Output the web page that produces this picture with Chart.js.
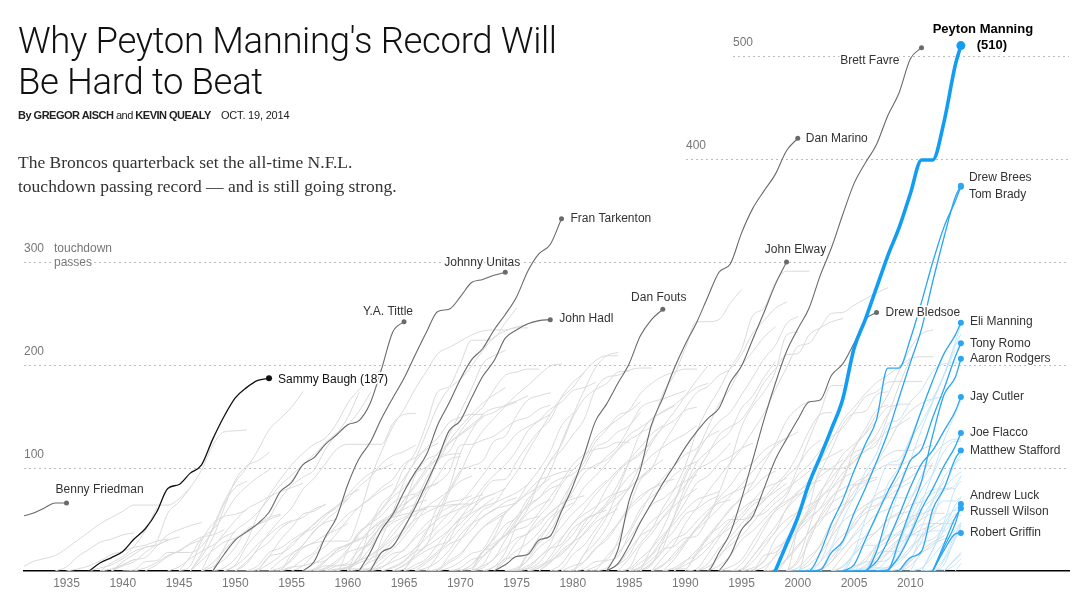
<!DOCTYPE html>
<html>
<head>
<meta charset="utf-8">
<script src="https://cdn.jsdelivr.net/npm/chart.js@4.4.1/dist/chart.umd.min.js"></script>
<style>
  body { margin: 0; background: #fff; }
  #page { position: relative; width: 1085px; height: 605px; overflow: hidden; font-family: "Liberation Sans", Arial, sans-serif; }
  #tdChart { position: absolute; left: 0; top: 0; }
  h1 { position: absolute; left: 18px; top: 20px; margin: 0; font-family: Roboto, "Liberation Sans", sans-serif; font-weight: 300; font-size: 36.5px; line-height: 41px; color: #111; letter-spacing: -0.35px; }
  .byline { position: absolute; left: 18px; top: 109px; font-size: 11px; line-height: 13px; color: #222; letter-spacing: -0.5px; white-space: nowrap; }
  .byline b { font-weight: bold; }
  .byline .date { position: absolute; left: 203px; letter-spacing: -0.2px; }
  .dek { position: absolute; left: 18px; top: 150px; font-family: "Liberation Serif", "DejaVu Serif", serif; font-size: 17.5px; line-height: 24px; color: #333; }
</style>
</head>
<body>
<div id="page">
  <canvas id="tdChart" width="1085" height="605"></canvas>
  <h1>Why Peyton Manning's Record Will<br>Be Hard to Beat</h1>
  <div class="byline"><b>By GREGOR AISCH</b> and <b>KEVIN QUEALY</b><span class="date">OCT. 19, 2014</span></div>
  <div class="dek">The Broncos quarterback set the all-time N.F.L.<br>touchdown passing record — and is still going strong.</div>
</div>
<script>
// x axis: season year, cumulative career touchdown passes on y
const tickYears = [1935, 1940, 1945, 1950, 1955, 1960, 1965, 1970, 1975, 1980, 1985, 1990, 1995, 2000, 2005, 2010];
const gridValues = [100, 200, 300, 400, 500];
const asOf = 2014.5; // Oct. 19, 2014

// retired quarterbacks that get a label (value at start year, start+1, ...)
const retiredNames = ['Benny Friedman', 'Sammy Baugh (187)', 'Y.A. Tittle', 'Johnny Unitas', 'Fran Tarkenton', 'John Hadl',
                      'Dan Fouts', 'Dan Marino', 'John Elway', 'Brett Favre', 'Drew Bledsoe'];
const retiredStart = [1931, 1937, 1948, 1956, 1961, 1962, 1973, 1983, 1983, 1991, 1993];
const retiredTD = [
  [53, 56, 61, 66, 66],
  [0, 8, 13, 19, 31, 41, 57, 80, 84, 95, 103, 128, 150, 168, 178, 185, 187],
  [0, 16, 30, 38, 46, 57, 77, 86, 103, 110, 123, 132, 142, 146, 163, 196, 232, 242],
  [0, 9, 33, 52, 84, 109, 125, 148, 168, 187, 210, 232, 252, 254, 266, 280, 283, 287, 290],
  [0, 18, 40, 55, 77, 96, 113, 142, 163, 186, 205, 216, 234, 249, 266, 291, 308, 317, 342],
  [0, 18, 24, 42, 62, 85, 109, 136, 146, 168, 189, 204, 226, 234, 240, 243, 244],
  [0, 6, 14, 16, 30, 34, 58, 82, 112, 145, 162, 182, 201, 228, 244, 254],
  [0, 20, 68, 98, 142, 168, 196, 220, 241, 266, 290, 298, 328, 352, 369, 385, 408, 420],
  [0, 7, 25, 47, 66, 85, 102, 120, 135, 148, 158, 183, 199, 225, 251, 278, 300],
  [0, 0, 18, 37, 70, 108, 147, 182, 213, 235, 255, 287, 314, 346, 376, 396, 414, 442, 464, 497, 508],
  [0, 15, 40, 53, 80, 108, 128, 147, 164, 166, 190, 201, 221, 244, 251]
];

// active quarterbacks that get a label; last value is the total on Oct. 19, 2014
const activeNames = ['Peyton Manning', 'Drew Brees', 'Tom Brady', 'Eli Manning', 'Tony Romo', 'Aaron Rodgers', 'Jay Cutler',
                     'Joe Flacco', 'Matthew Stafford', 'Andrew Luck', 'Russell Wilson', 'Robert Griffin'];
const activeStart = [1998, 2001, 2000, 2004, 2004, 2005, 2006, 2008, 2009, 2012, 2012, 2012];
const activeTD = [
  [0, 26, 52, 85, 111, 138, 167, 216, 244, 275, 306, 333, 366, 399, 399, 436, 491, 510],
  [0, 1, 18, 29, 56, 80, 106, 134, 168, 202, 235, 281, 324, 363, 374],
  [0, 0, 18, 46, 69, 97, 123, 147, 197, 197, 225, 261, 300, 334, 359, 373],
  [0, 6, 30, 54, 77, 98, 125, 156, 185, 211, 229, 241],
  [0, 0, 0, 19, 55, 81, 107, 118, 149, 177, 208, 221],
  [0, 0, 0, 1, 29, 59, 87, 132, 171, 188, 206],
  [0, 9, 29, 54, 81, 104, 117, 136, 155, 169],
  [0, 14, 35, 60, 80, 102, 121, 134],
  [0, 13, 19, 60, 80, 109, 117],
  [0, 23, 46, 65],
  [0, 26, 52, 61],
  [0, 20, 36, 37]
];

// other active quarterbacks (light blue), [start year, totals...], last value on Oct. 19, 2014
const otherActive = [
  [2004, [0, 1, 2, 24, 45, 79, 107, 137, 164, 190, 222, 239]],
  [2004, [0, 17, 34, 52, 84, 101, 127, 144, 165, 191, 219, 230]],
  [2003, [0, 0, 18, 50, 78, 104, 108, 129, 155, 168, 190, 214, 219]],
  [2008, [0, 16, 38, 66, 95, 127, 153, 166]],
  [1999, [0, 0, 2, 9, 24, 50, 72, 96, 114, 142, 147, 164, 176, 194, 201, 202, 202]],
  [2001, [0, 2, 18, 22, 36, 51, 71, 71, 71, 72, 93, 111, 123, 128, 128]],
  [2005, [0, 1, 17, 19, 19, 37, 51, 68, 81, 104, 109]],
  [2011, [0, 21, 40, 64, 71]],
  [2005, [0, 3, 3, 3, 11, 20, 43, 67, 91, 105, 113]],
  [2004, [0, 1, 1, 2, 11, 26, 55, 79, 94, 116, 126, 126]],
  [2005, [0, 9, 9, 11, 29, 50, 70, 79, 80, 83, 92]],
  [2011, [0, 20, 47, 80, 87]],
  [2010, [0, 18, 24, 45, 59, 59]],
  [2011, [0, 0, 10, 31, 41]],
  [2012, [0, 12, 36, 46]],
  [2012, [0, 6, 33, 44]],
  [2005, [0, 0, 0, 1, 22, 38, 65, 75, 81, 92, 96]],
  [2008, [0, 0, 12, 27, 31, 42, 55, 60]],
  [2002, [0, 0, 5, 16, 25, 25, 35, 35, 35, 35, 39, 39, 52, 54]],
  [2009, [0, 12, 29, 55, 68, 68, 72]],
  [2009, [0, 0, 0, 1, 1, 6, 12]],
  [2013, [0, 12, 18]],
  [2013, [0, 11, 16]],
  [2014, [0, 7]],
  [2010, [0, 3, 14, 28, 40, 47]],
  [2007, [0, 2, 8, 20, 34, 44, 52, 60, 66]]
];

// everyone else (gray), [start year, totals...]
const otherRetired = [
  [1931, [3, 9, 12, 15, 22, 30, 38, 46, 52, 58, 64, 64, 64, 64, 70, 81]],
  [1934, [0, 4, 14, 21, 28, 31, 35, 37]],
  [1935, [0, 2, 5, 10, 16, 19, 23, 25, 29, 31]],
  [1937, [0, 3, 6, 12, 19, 23, 25, 30]],
  [1938, [0, 8, 14, 24, 39, 61]],
  [1939, [0, 5, 9, 18, 28, 56, 67, 81, 98, 122, 135, 136, 137]],
  [1939, [0, 6, 11]],
  [1939, [0, 9, 16, 23, 25, 30, 33]],
  [1938, [0, 2, 6, 11, 13, 24, 35, 40, 44, 47]],
  [1940, [0, 1, 9, 10, 18, 18, 18, 24, 40, 65, 81, 87]],
  [1941, [0, 3, 8, 15, 19, 27, 33, 35, 40]],
  [1942, [0, 6, 14, 20, 26, 30]],
  [1944, [0, 4, 12, 19, 25, 33, 38]],
  [1945, [0, 14, 32, 40, 54, 71, 82, 91, 98]],
  [1945, [0, 5, 29, 46, 53, 55, 59]],
  [1946, [0, 17, 42, 67, 86, 100, 117, 137, 148, 159, 174]],
  [1946, [0, 14, 32, 61, 88, 102, 107, 115]],
  [1946, [0, 10, 20, 28, 32, 39, 45]],
  [1947, [0, 22, 36, 49, 60, 66, 72, 77, 81, 85]],
  [1947, [0, 4, 11, 23, 40, 45, 50, 54]],
  [1947, [0, 8, 20, 31, 37, 45, 52, 55]],
  [1948, [0, 3, 12, 28, 54, 73, 89, 103, 114, 123, 129, 143, 163, 176, 187, 196]],
  [1948, [0, 22, 39, 47, 57, 70, 83, 93, 103, 113, 124, 134, 142, 155, 173]],
  [1949, [0, 6, 24, 37, 51, 70, 83, 91, 98, 118, 133, 149, 173]],
  [1949, [0, 0, 0, 0, 0, 1, 16, 23, 27, 29, 29, 29, 53, 89, 116, 140, 157, 177, 194, 211, 217, 223, 229, 233, 234, 234, 236, 236]],
  [1949, [0, 5, 14, 26, 35, 44, 49]],
  [1950, [0, 7, 22, 37, 50, 61, 79, 90, 104, 118, 123, 123, 123, 123, 143, 152, 153]],
  [1950, [0, 9, 20, 28, 41, 48, 52, 60, 64]],
  [1951, [0, 5, 18, 22, 30, 37, 45, 55, 63, 70]],
  [1951, [0, 2, 14, 30, 42, 55, 58, 65]],
  [1952, [0, 14, 17, 24, 36, 42, 53, 63, 74, 86, 95, 99, 104]],
  [1952, [0, 7, 15, 27, 35, 46, 55, 61, 73, 79]],
  [1953, [0, 3, 10, 22, 28, 35, 40, 46]],
  [1953, [0, 10, 17, 25, 39, 47, 50]],
  [1954, [0, 4, 5, 8, 10, 20, 26, 30, 40, 47, 52, 55, 58, 62, 63, 64, 65, 65]],
  [1954, [0, 12, 25, 38, 49, 58, 70, 82, 91, 104, 112, 116, 122]],
  [1954, [0, 3, 11, 18, 32, 44, 55, 62, 71, 81, 89, 104, 110, 118, 124]],
  [1955, [0, 5, 16, 24, 36, 50, 62, 70, 78, 84]],
  [1956, [0, 1, 9, 20, 26, 31, 35, 48, 52, 63, 74, 81, 86, 96, 122, 123, 127, 131, 139, 146, 149, 157, 161]],
  [1956, [0, 2, 10, 18, 24, 36, 48, 60, 75, 90, 106, 120, 129, 144, 149, 152, 152]],
  [1956, [0, 7, 14, 22, 25, 33]],
  [1957, [0, 2, 8, 18, 22, 27, 45, 49, 63, 93, 108, 114, 132, 154, 177, 201, 209, 214]],
  [1957, [0, 5, 5, 6, 11, 43, 65, 76, 100, 115, 143, 174, 179, 201, 224, 224, 226, 241, 255]],
  [1957, [0, 0, 1, 2, 2, 2, 31, 57, 87, 108, 134, 160, 177, 186, 199, 214, 227, 233, 237, 239]],
  [1957, [0, 0, 0, 20, 38, 46, 59, 72, 81, 95, 101, 109, 113, 114]],
  [1957, [0, 3, 10, 21, 36, 46, 54, 66, 72, 75]],
  [1958, [0, 2, 4, 10, 22, 39, 54, 69, 84, 100, 114, 124, 132, 140, 149]],
  [1958, [0, 5, 8, 20, 26, 38, 47, 52, 58, 60]],
  [1959, [0, 3, 8, 12, 18, 29, 41, 66, 90, 106, 124, 133, 142, 150, 154, 161, 165, 170]],
  [1959, [0, 4, 10, 15, 25, 40, 50, 55, 62]],
  [1960, [0, 14, 30, 43, 53, 69, 82, 97, 110, 126, 140, 152, 163, 171, 178]],
  [1960, [0, 10, 15, 22, 31, 40, 50, 57, 62, 67, 69, 73]],
  [1960, [0, 24, 40, 49, 55, 60, 65, 69]],
  [1960, [0, 2, 9, 14, 25, 37, 52, 76, 92, 108, 111]],
  [1960, [0, 15, 31, 44, 57, 65, 72, 80, 85]],
  [1961, [0, 11, 23, 35, 49, 64, 80, 109, 116, 135, 149, 159, 176, 190, 193, 196, 196]],
  [1961, [0, 1, 4, 9, 14, 22, 32, 44, 56, 66, 79, 93, 108, 120, 133, 140, 146, 152]],
  [1961, [0, 3, 12, 21, 33, 47, 62, 70, 78, 87, 92]],
  [1962, [0, 3, 12, 21, 32, 41, 51, 76, 95, 119, 136, 148, 160, 171, 180, 190, 199, 201]],
  [1962, [0, 8, 17, 20, 34, 46, 55, 62, 65]],
  [1963, [0, 3, 9, 19, 25, 55, 80, 114, 136, 152, 158, 160, 164]],
  [1963, [0, 4, 10, 22, 39, 50, 56, 61, 70, 74]],
  [1964, [0, 6, 15, 24, 31, 40, 50, 56, 63, 71]],
  [1964, [0, 5, 13, 20, 25, 29, 41, 53, 62, 66, 71, 76, 84]],
  [1964, [0, 2, 15, 26, 38, 47, 60, 65, 71, 75, 80]],
  [1965, [0, 18, 37, 63, 78, 97, 102, 107, 126, 131, 151, 166, 170, 173]],
  [1965, [0, 3, 10, 19, 30, 51, 66, 81, 93, 103, 117, 136, 146, 157, 164, 175, 178, 183]],
  [1965, [0, 6, 12, 26, 39, 52, 60, 70, 75]],
  [1966, [0, 8, 17, 26, 31, 40, 53, 59, 67, 71]],
  [1966, [0, 0, 1, 15, 30, 45, 59, 65, 81, 96, 116, 134, 152, 168, 178, 193, 204, 209, 209]],
  [1966, [0, 3, 9, 20, 35, 46, 52, 60, 63, 66]],
  [1967, [0, 15, 36, 46, 58, 77, 88, 89, 106, 122, 136, 147, 169, 183, 192]],
  [1967, [0, 2, 10, 17, 29, 42, 51, 58]],
  [1968, [0, 3, 9, 17, 21, 39, 57, 66, 77, 88, 92, 96, 98]],
  [1968, [0, 8, 15, 30, 42, 49, 56, 67, 75, 82, 90]],
  [1969, [0, 1, 3, 18, 33, 56, 67, 84, 98, 116, 141, 153]],
  [1969, [0, 3, 11, 14, 24, 35, 45, 50, 53]],
  [1970, [0, 6, 19, 31, 45, 52, 70, 80, 97, 125, 151, 175, 197, 209, 212]],
  [1970, [0, 0, 0, 4, 18, 44, 60, 87, 107, 123, 149, 167, 176, 182, 193, 194]],
  [1970, [0, 6, 19, 27, 35, 44, 56, 64, 69]],
  [1971, [0, 5, 12, 30, 48, 66, 87, 106, 117, 132, 147, 176, 188, 190, 195, 197, 197]],
  [1971, [0, 6, 24, 34, 40, 44, 57, 72, 87, 103, 113, 118, 120, 125, 125]],
  [1971, [0, 19, 23, 38, 53, 62, 71, 84, 90, 94, 105, 125, 137, 151, 155, 164]],
  [1971, [0, 3, 12, 22, 32, 36, 48, 56, 66, 73]],
  [1971, [0, 14, 25, 35, 50, 64, 71, 80, 84]],
  [1972, [0, 4, 12, 28, 37, 45, 57, 65, 70, 73]],
  [1973, [0, 12, 14, 37, 53, 65, 84, 98, 109, 129, 139, 147, 156, 172, 182, 189, 193, 196, 196]],
  [1973, [0, 10, 20, 27, 38, 52, 60, 66]],
  [1974, [0, 1, 16, 33, 46, 68, 86, 99, 101, 111, 121, 139, 158, 164, 167, 171, 175]],
  [1974, [0, 1, 3, 13, 26, 52, 64, 81, 92, 104, 117, 127, 134, 148, 154, 160]],
  [1974, [0, 1, 18, 27, 39, 60, 88, 101, 120, 125, 135, 141, 154]],
  [1974, [0, 3, 10, 23, 31, 43, 56, 66, 78, 88]],
  [1975, [0, 11, 29, 46, 61, 77, 95, 103, 108, 118, 132, 139, 147, 155, 161, 170, 178, 182]],
  [1975, [0, 2, 8, 22, 32, 46, 59, 74, 86, 98, 108, 120, 133, 141]],
  [1975, [0, 5, 13, 22, 26, 41, 49, 55, 59]],
  [1976, [0, 3, 10, 16, 28, 42, 55, 66, 84, 105, 115, 124]],
  [1976, [0, 5, 11, 24, 35, 50, 55, 64, 78, 92, 101, 112, 120, 127, 133, 141]],
  [1976, [0, 3, 14, 31, 46, 55, 62, 71, 76, 80]],
  [1977, [0, 9, 18, 27, 46, 60, 80, 96, 106, 113, 127, 139, 146, 156, 159]],
  [1977, [0, 8, 20, 28, 36, 47, 54, 60]],
  [1978, [0, 7, 22, 37, 50, 63, 72, 81, 90, 100]],
  [1978, [0, 2, 16, 25, 40, 55, 66, 80, 91, 100, 108]],
  [1979, [0, 1, 16, 35, 52, 78, 106, 133, 141, 172, 190, 216, 242, 242, 244, 260, 273]],
  [1979, [0, 1, 16, 27, 42, 64, 81, 103, 124, 140, 154, 170, 185, 199]],
  [1979, [0, 5, 9, 21, 33, 46, 62, 73, 80, 86, 89]],
  [1980, [0, 2, 9, 11, 29, 61, 88, 99, 122, 140, 158, 173, 179, 190, 196, 210, 231, 243, 255, 261]],
  [1980, [0, 9, 22, 30, 45, 60, 70, 80, 84]],
  [1981, [0, 4, 10, 14, 36, 56, 76, 90, 102, 113, 119, 130, 136]],
  [1981, [0, 1, 14, 26, 39, 60, 72, 81, 93, 101, 106]],
  [1982, [0, 3, 17, 31, 48, 64, 70, 79, 87, 93]],
  [1983, [0, 6, 15, 35, 48, 57, 70, 83, 98, 104, 112, 124]],
  [1983, [0, 6, 20, 34, 41, 51, 63, 72, 80]],
  [1984, [0, 12, 27, 40, 61, 79, 102, 135, 158, 176, 197, 215, 248, 255, 280, 291, 291, 291]],
  [1984, [0, 3, 24, 36, 52, 67, 95, 113, 131, 145, 154, 171, 188, 206, 219, 240, 247]],
  [1984, [0, 2, 12, 22, 35, 46, 59, 69, 73, 77]],
  [1985, [0, 1, 6, 29, 52, 76, 96, 113, 132, 140, 147, 163, 183, 196, 210, 211, 229, 236, 242, 245]],
  [1985, [0, 8, 16, 32, 49, 67, 85, 92, 105, 111, 119, 124]],
  [1985, [0, 3, 11, 21, 24, 32, 34, 51, 76, 105, 140, 160, 174, 193, 229, 232]],
  [1985, [0, 4, 15, 27, 39, 55, 60, 68, 73]],
  [1986, [0, 22, 41, 66, 91, 115, 139, 162, 177, 199, 213, 227, 237]],
  [1986, [0, 8, 22, 53, 82, 105, 116, 126, 136, 158, 170, 188, 203]],
  [1986, [0, 7, 19, 31, 36, 48, 59, 66, 69]],
  [1987, [0, 13, 26, 46, 61, 77, 91, 105, 119, 136, 153, 176, 197, 218, 221, 236, 250, 251, 258, 264, 270, 275]],
  [1987, [0, 0, 2, 2, 18, 34, 42, 50, 50, 53, 56, 66, 76, 100, 128, 154, 180, 180]],
  [1987, [0, 5, 17, 29, 40, 50, 61, 73, 84, 97, 109, 121, 129]],
  [1987, [0, 6, 14, 28, 42, 54, 68, 75, 80, 86]],
  [1988, [0, 11, 26, 41, 56, 71, 83, 98, 105, 117, 124, 129, 135]],
  [1988, [0, 3, 10, 16, 33, 47, 59, 72, 80, 91, 97]],
  [1989, [0, 9, 20, 31, 46, 61, 70, 85, 104, 123, 146, 158, 165]],
  [1989, [0, 6, 12, 22, 36, 49, 60, 68, 71]],
  [1990, [0, 16, 26, 34, 42, 52, 64, 71, 84, 95, 113, 136, 152, 154]],
  [1990, [0, 2, 16, 32, 46, 55, 68, 80, 85, 90]],
  [1991, [0, 4, 13, 29, 40, 57, 68, 80, 92, 102, 118, 127]],
  [1991, [0, 7, 22, 33, 46, 58, 69, 77, 85]],
  [1992, [0, 15, 25, 34, 47, 60, 71, 80, 88, 97, 106, 112, 118]],
  [1992, [0, 5, 15, 30, 39, 50, 61, 68, 74, 80]],
  [1993, [0, 0, 0, 1, 15, 18, 28, 38, 50, 61, 80, 95, 106, 120, 132, 152, 162, 162]],
  [1993, [0, 0, 7, 22, 41, 59, 73, 93, 103, 117, 130, 139, 154, 169, 174, 183, 184, 184, 184]],
  [1993, [0, 4, 11, 28, 45, 58, 66, 77, 84, 88]],
  [1994, [0, 2, 14, 29, 43, 60, 72, 82, 92, 100, 108]],
  [1995, [0, 3, 9, 31, 43, 58, 75, 96, 118, 142, 153, 155, 171, 174]],
  [1995, [0, 14, 27, 38, 61, 76, 88, 107, 126, 146, 159, 172, 183, 190, 198, 206, 208, 208]],
  [1995, [0, 9, 23, 38, 50, 57, 64, 70]],
  [1996, [0, 10, 22, 29, 44, 55, 70, 84, 104, 115, 120, 129]],
  [1996, [0, 4, 14, 25, 40, 57, 72, 80, 90, 96]],
  [1997, [0, 15, 32, 41, 59, 77, 90, 105, 120, 138, 156, 161]],
  [1997, [0, 0, 12, 40, 52, 60, 72, 80, 84, 86, 105, 123, 143, 155, 163, 167, 169]],
  [1997, [0, 2, 12, 25, 37, 50, 58, 64, 70]],
  [1998, [0, 0, 41, 62, 98, 99, 100, 106, 117, 123, 150, 180, 206]],
  [1998, [0, 11, 23, 38, 52, 66, 73, 82, 88, 91]],
  [1999, [0, 8, 29, 54, 71, 87, 118, 134, 152, 171, 194, 216, 230, 234]],
  [1999, [0, 0, 33, 47, 65, 90, 110, 116, 126, 136, 142, 149]],
  [1999, [0, 11, 42, 74, 95, 113, 123, 133, 146, 159, 161]],
  [1999, [0, 3, 14, 24, 40, 58, 72, 84, 89]],
  [2000, [0, 10, 25, 47, 60, 84, 91, 98, 103, 103, 108, 118, 122]],
  [2000, [0, 0, 9, 35, 59, 77, 91, 104, 113, 117, 117, 123]],
  [2000, [0, 0, 0, 22, 35, 43, 60, 64, 74, 91, 100, 102, 102]],
  [2000, [0, 6, 17, 33, 48, 56, 64, 70, 75]],
  [2001, [0, 2, 13, 28, 45, 56, 62, 72, 80, 86]],
  [2002, [0, 9, 27, 48, 61, 74, 80, 84, 91, 100]],
  [2002, [0, 9, 21, 34, 45, 55, 60, 64]],
  [2003, [0, 14, 27, 33, 38, 49, 55, 58]],
  [2003, [0, 0, 5, 9, 25, 34, 49, 69, 87, 105]],
  [2003, [0, 4, 16, 28, 38, 50, 57, 64, 67]],
  [2004, [0, 0, 1, 21, 29, 38, 44, 50, 56, 56]],
  [2004, [0, 3, 12, 24, 33, 45, 52, 57]],
  [2005, [0, 0, 10, 18, 31, 48, 61, 70, 87]],
  [2005, [0, 5, 15, 26, 36, 48, 55, 60]],
  [2006, [0, 12, 21, 31, 35, 45, 46, 46, 46]],
  [2006, [0, 6, 17, 27, 34, 40, 44]],
  [2007, [0, 4, 11, 23, 33, 41, 47]],
  [2008, [0, 2, 9, 20, 28, 34]],
  [2009, [0, 10, 35, 51, 78, 80]],
  [2009, [0, 5, 17, 26, 31, 35]]
];

const colors = {
  gray: '#dadada', lightBlue: '#c4e4fa', blue: '#2ba6f1', manning: '#129df2',
  dark: '#6a6a6a', baugh: '#111111', text: '#333333', tick: '#777777', grid: '#bdbdbd'
};

function toPoints(start, td, active) {
  return td.map((v, i) => ({ x: (active && i === td.length - 1) ? asOf : start + i, y: v }));
}

function endDot(r) {
  return ctx => (ctx.dataIndex === ctx.dataset.data.length - 1 ? r : 0);
}

const datasets = [];
otherRetired.forEach(([s, td]) => datasets.push({
  data: toPoints(s, td, false), borderColor: colors.gray, borderWidth: 1, pointRadius: 0, order: 5
}));
otherActive.forEach(([s, td]) => datasets.push({
  data: toPoints(s, td, true), borderColor: colors.lightBlue, borderWidth: 1, pointRadius: 0, order: 4
}));
retiredNames.forEach((name, i) => {
  const c = i === 1 ? colors.baugh : colors.dark;
  datasets.push({
    label: name, data: toPoints(retiredStart[i], retiredTD[i], false),
    borderColor: c, backgroundColor: c, borderWidth: i === 1 ? 1.3 : 1.1,
    pointRadius: endDot(i === 1 ? 3 : 2.5), pointBorderWidth: 0, order: 2
  });
});
activeNames.forEach((name, i) => {
  const star = i === 0;
  const c = star ? colors.manning : colors.blue;
  datasets.push({
    label: name, data: toPoints(activeStart[i], activeTD[i], true),
    borderColor: c, backgroundColor: c, borderWidth: star ? 3.6 : 1.3,
    pointRadius: endDot(star ? 4.5 : 3), pointBorderWidth: 0, order: star ? 0 : 3
  });
});

// where each name sits relative to its end dot
const labelPlace = {
  'Benny Friedman': { dx: -11, dy: -13, align: 'left' },
  'Sammy Baugh (187)': { dx: 9, dy: 1, align: 'left', color: '#111' },
  'Y.A. Tittle': { dx: -16, dy: -10, align: 'center' },
  'Johnny Unitas': { dx: 15, dy: -10, align: 'right' },
  'Fran Tarkenton': { dx: 9, dy: 0, align: 'left' },
  'John Hadl': { dx: 9, dy: -1, align: 'left' },
  'Dan Fouts': { dx: -4, dy: -12, align: 'center' },
  'Dan Marino': { dx: 8, dy: 0, align: 'left' },
  'John Elway': { dx: 9, dy: -12, align: 'center' },
  'Brett Favre': { dx: -22, dy: 13, align: 'right' },
  'Drew Bledsoe': { dx: 9, dy: 0, align: 'left' },
  'Peyton Manning': { dx: 22, dy: -16, align: 'center', bold: true, extra: '(510)', extraDx: 31, extraDy: 0 },
  'Drew Brees': { dx: 8, dy: -8, align: 'left' },
  'Tom Brady': { dx: 8, dy: 8, align: 'left' },
  'Eli Manning': { dx: 9, dy: -1, align: 'left' },
  'Tony Romo': { dx: 9, dy: 0, align: 'left' },
  'Aaron Rodgers': { dx: 9, dy: 0, align: 'left' },
  'Jay Cutler': { dx: 9, dy: 0, align: 'left' },
  'Joe Flacco': { dx: 9, dy: 0, align: 'left' },
  'Matthew Stafford': { dx: 9, dy: 0, align: 'left' },
  'Andrew Luck': { dx: 9, dy: -8, align: 'left' },
  'Russell Wilson': { dx: 9, dy: 4, align: 'left' },
  'Robert Griffin': { dx: 9, dy: 0, align: 'left' }
};
const gridStartX = { 100: 24, 200: 24, 300: 24, 400: 686, 500: 733 };

function haloText(c, txt, x, y, color) {
  c.lineJoin = 'round';
  c.lineWidth = 3.5;
  c.strokeStyle = '#fff';
  c.strokeText(txt, x, y);
  c.fillStyle = color;
  c.fillText(txt, x, y);
}

const gridPlugin = {
  id: 'gridPlugin',
  beforeDatasetsDraw(chart) {
    const c = chart.ctx, y = chart.scales.y, area = chart.chartArea;
    c.save();
    c.strokeStyle = colors.grid;
    c.lineWidth = 1;
    c.setLineDash([2, 3]);
    gridValues.forEach(v => {
      const py = Math.round(y.getPixelForValue(v)) + 0.5;
      c.beginPath();
      c.moveTo(gridStartX[v], py);
      c.lineTo(area.right, py);
      c.stroke();
    });
    c.setLineDash([]);
    c.font = '12px "Liberation Sans", Arial, sans-serif';
    c.textBaseline = 'middle';
    c.textAlign = 'left';
    gridValues.forEach(v => {
      const py = y.getPixelForValue(v);
      c.fillStyle = colors.tick;
      c.fillText(String(v), gridStartX[v], py - 13);
    });
    c.fillStyle = colors.tick;
    c.fillText('touchdown', 54, y.getPixelForValue(300) - 13);
    haloText(c, 'passes', 54, y.getPixelForValue(300) + 1, colors.tick);
    c.restore();
  }
};

const labelPlugin = {
  id: 'labelPlugin',
  afterDatasetsDraw(chart) {
    const c = chart.ctx;
    c.save();
    c.textBaseline = 'middle';
    chart.data.datasets.forEach((ds, di) => {
      const place = labelPlace[ds.label];
      if (!place) return;
      const pts = chart.getDatasetMeta(di).data;
      const p = pts[pts.length - 1];
      c.font = (place.bold ? 'bold 13px ' : '12px ') + '"Liberation Sans", Arial, sans-serif';
      c.textAlign = place.align;
      const col = place.bold ? '#000' : (place.color || colors.text);
      haloText(c, ds.label, p.x + place.dx, p.y + place.dy, col);
      if (place.extra) {
        c.textAlign = 'center';
        haloText(c, place.extra, p.x + place.extraDx, p.y + place.extraDy, col);
      }
    });
    c.restore();
  }
};

new Chart(document.getElementById('tdChart'), {
  type: 'line',
  data: { datasets },
  options: {
    responsive: false,
    animation: false,
    parsing: true,
    layout: { padding: { left: 24, right: 16, top: 25, bottom: 0 } },
    elements: {
      line: { cubicInterpolationMode: 'monotone', borderJoinStyle: 'round', borderCapStyle: 'round' },
      point: { hoverRadius: 0 }
    },
    scales: {
      x: {
        type: 'linear', min: 1931.22, max: 2024.11,
        grid: { display: false, drawTicks: false },
        border: { display: true, color: '#000', width: 1.5 },
        afterBuildTicks: s => { s.ticks = tickYears.map(v => ({ value: v })); },
        afterFit: s => { s.height = 34; },
        ticks: {
          autoSkip: false, maxRotation: 0, padding: 5, color: colors.tick,
          font: { size: 12, family: '"Liberation Sans", Arial, sans-serif' },
          callback: v => String(v)
        }
      },
      y: { type: 'linear', min: 0, max: 530, display: false }
    },
    plugins: { legend: { display: false }, tooltip: { enabled: false } }
  },
  plugins: [gridPlugin, labelPlugin]
});
</script>
</body>
</html>
